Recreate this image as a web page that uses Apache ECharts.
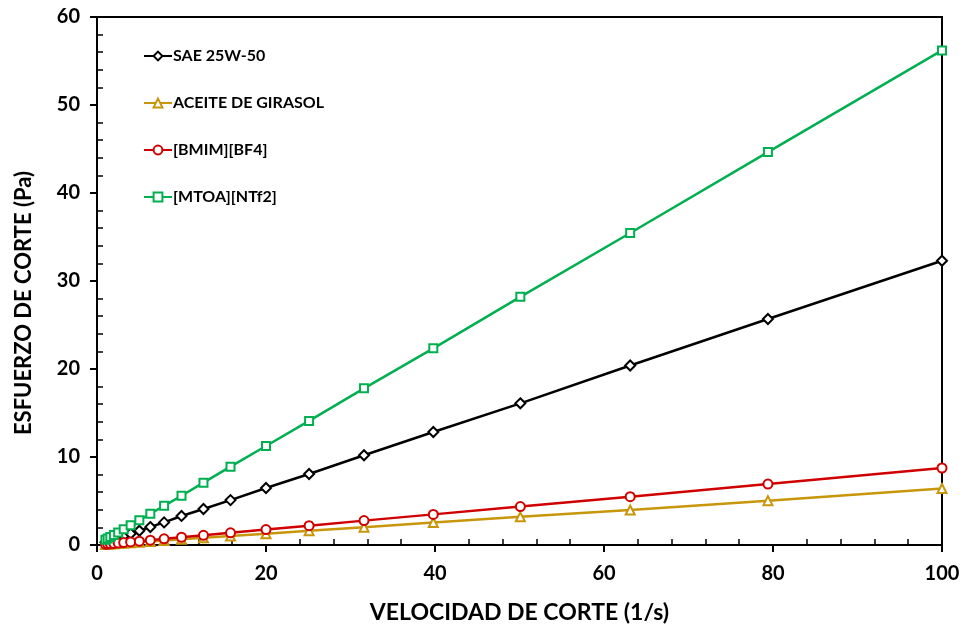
<!DOCTYPE html>
<html><head><meta charset="utf-8">
<script src="https://cdn.jsdelivr.net/npm/echarts@6/dist/echarts.min.js"></script>
<style>html,body{margin:0;padding:0;background:#fff}#c{width:964px;height:630px}</style>
</head><body><div id="c"></div>
<script>
const shearRate = [1, 1.26, 1.58, 2, 2.51, 3.16, 3.98, 5.01, 6.31, 7.94, 10, 12.6, 15.8, 20, 25.1, 31.6, 39.8, 50.1, 63.1, 79.4, 100];
const sae = [0.32, 0.41, 0.51, 0.65, 0.81, 1.02, 1.29, 1.62, 2.04, 2.57, 3.3, 4.09, 5.1, 6.48, 8.07, 10.2, 12.84, 16.1, 20.4, 25.68, 32.3];
const girasol = [0.06, 0.08, 0.10, 0.13, 0.16, 0.20, 0.25, 0.32, 0.40, 0.51, 0.64, 0.81, 1.01, 1.28, 1.61, 2.02, 2.55, 3.2, 3.98, 5.04, 6.42];
const bmim = [0.09, 0.11, 0.14, 0.17, 0.22, 0.28, 0.35, 0.44, 0.55, 0.70, 0.88, 1.1, 1.38, 1.75, 2.2, 2.77, 3.48, 4.37, 5.49, 6.93, 8.75];
const mtoa = [0.6, 0.75, 0.92, 1.15, 1.42, 1.8, 2.25, 2.8, 3.55, 4.45, 5.6, 7.08, 8.9, 11.25, 14.1, 17.8, 22.35, 28.2, 35.45, 44.65, 56.2];
const seriesNames = ['SAE 25W-50', 'ACEITE DE GIRASOL', '[BMIM][BF4]', '[MTOA][NTf2]'];
const xTitle = 'VELOCIDAD DE CORTE (1/s)';
const yTitle = 'ESFUERZO DE CORTE (Pa)';

const FONT = 'Lato';
const pairs = arr => shearRate.map((x, i) => [x, arr[i]]);
function mk(name, arr, color, symbol, size) {
  return {
    name, type: 'line', data: pairs(arr), symbol, symbolSize: size,
    xAxisIndex: 0, yAxisIndex: 0,
    lineStyle: {color, width: 2.5},
    itemStyle: {color: '#fff', borderColor: color, borderWidth: 2},
    emphasis: {disabled: true}, animation: false, z: 5
  };
}
const chart = echarts.init(document.getElementById('c'));
const axisLine = {show: true, lineStyle: {color: '#000', width: 2}};
chart.setOption({
  backgroundColor: '#fff',
  animation: false,
  grid: {left: 97, right: 22, top: 17, bottom: 85, show: true, borderColor: '#000', borderWidth: 2, backgroundColor: 'transparent'},
  legend: {
    orient: 'vertical', left: 138, top: 43, itemGap: 31, itemWidth: 28, itemHeight: 11,
    data: seriesNames,
    textStyle: {fontFamily: FONT, fontWeight: 'bold', fontSize: 16, color: '#000', padding: [0, 0, 0, -4]}
  },
  xAxis: [
    {type: 'value', min: 0, max: 100, interval: 20, position: 'bottom',
      name: xTitle, nameLocation: 'middle', nameGap: 56,
      nameTextStyle: {fontFamily: FONT, fontWeight: 'bold', fontSize: 23, color: '#000'},
      axisLine, axisTick: {show: true, inside: false, length: 7, lineStyle: {color: '#000', width: 2}},
      axisLabel: {fontFamily: FONT, fontWeight: 'bold', fontSize: 20, color: '#000', margin: 19},
      splitLine: {show: false}},
    {type: 'value', min: 0, max: 100, interval: 20, position: 'bottom',
      axisLine: {show: false}, axisLabel: {show: false}, splitLine: {show: false},
      axisTick: {show: false, inside: true},
      minorTick: {show: true, splitNumber: 5, length: 6, lineStyle: {color: '#000', width: 1.5}}}
  ],
  yAxis: [
    {type: 'value', min: 0, max: 60, interval: 10, position: 'left',
      name: yTitle, nameLocation: 'middle', nameGap: 62, nameRotate: 90,
      nameTextStyle: {fontFamily: FONT, fontWeight: 'bold', fontSize: 22, color: '#000', padding: [0, 44, 0, 0]},
      axisLine, axisTick: {show: true, inside: false, length: 7, lineStyle: {color: '#000', width: 2}},
      axisLabel: {fontFamily: FONT, fontWeight: 'bold', fontSize: 20, color: '#000', margin: 17},
      splitLine: {show: false}},
    {type: 'value', min: 0, max: 60, interval: 10, position: 'left',
      axisLine: {show: false}, axisLabel: {show: false}, splitLine: {show: false},
      axisTick: {show: false, inside: true},
      minorTick: {show: true, splitNumber: 5, length: 6, lineStyle: {color: '#000', width: 1.5}}}
  ],
  series: [
    mk(seriesNames[0], sae, '#000000', 'diamond', 10),
    mk(seriesNames[1], girasol, '#C8960A', 'triangle', 9),
    mk(seriesNames[2], bmim, '#D00000', 'circle', 9),
    mk(seriesNames[3], mtoa, '#00B050', 'rect', 8)
  ]
});
</script></body></html>
